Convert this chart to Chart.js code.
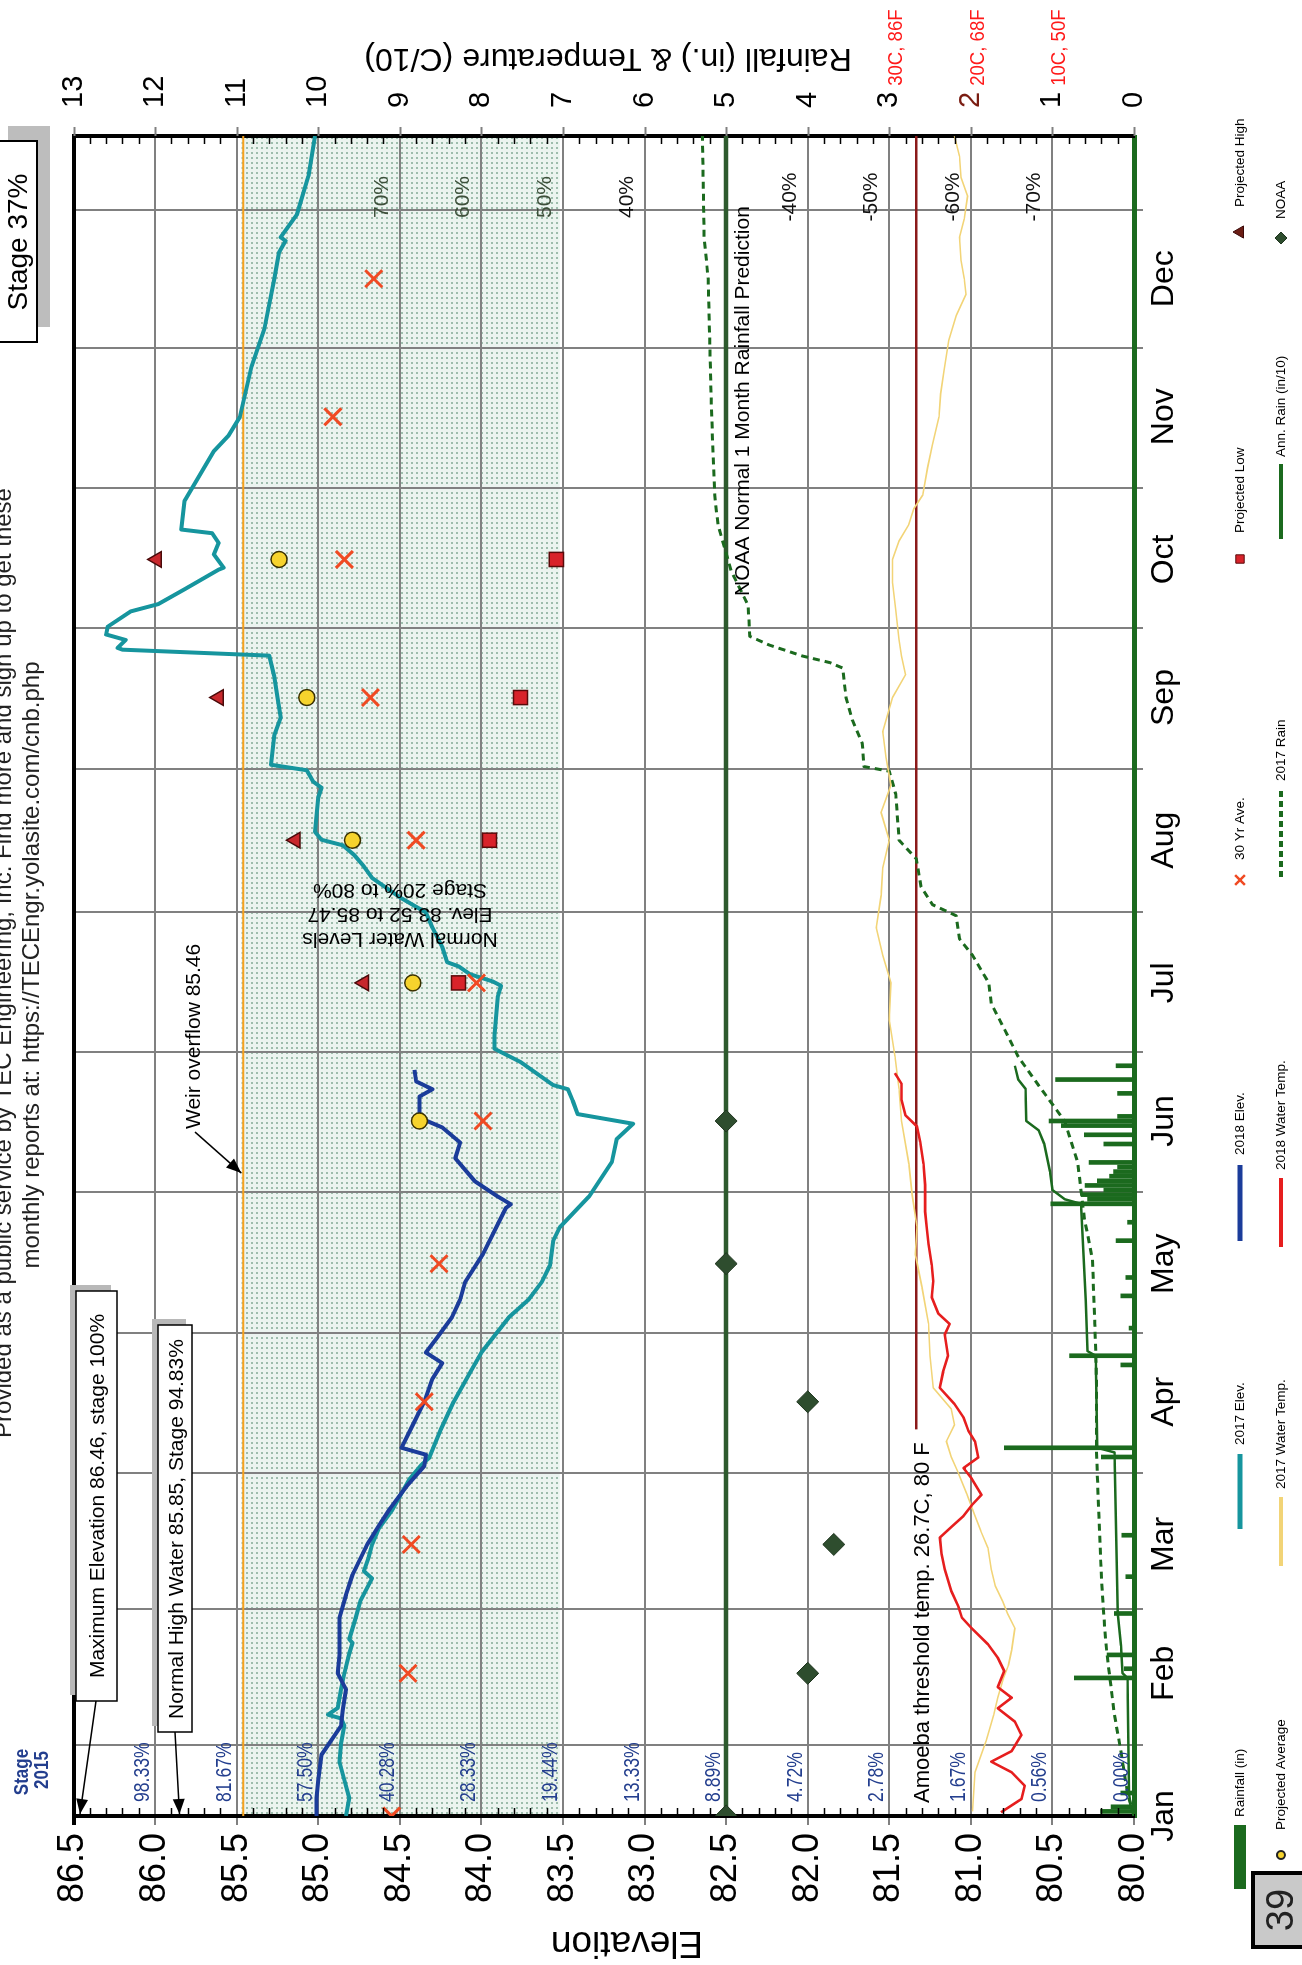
<!DOCTYPE html>
<html>
<head>
<meta charset="utf-8">
<script src="https://cdn.jsdelivr.net/npm/chart.js@4.4.1/dist/chart.umd.min.js"></script>
<style>
  html, body { margin: 0; padding: 0; background: #fff; width: 1302px; height: 1965px; overflow: hidden; }
  /* the landscape chart is laid out 1965 x 1302 and turned onto the portrait page */
  #page { position: absolute; left: 0; top: 0; width: 1965px; height: 1302px;
          transform-origin: 0 0; transform: translate(0, 1965px) rotate(-90deg); background: #fff; }
  canvas { display: block; }
</style>
</head>
<body>
<div id="page"><canvas id="lake" width="1965" height="1302"></canvas></div>
<script>
// ---------- data ----------
const months = ['Jan','Feb','Mar','Apr','May','Jun','Jul','Aug','Sep','Oct','Nov','Dec'];
const monthStart = [0,31,59,90,120,151,181,212,243,273,304,334];

// [day of year, elevation]
const elev2017 = [[0,84.83],[3.9,84.81],[7.8,84.84],[11.8,84.87],[15.7,84.86],[19.6,84.84],[21.2,84.86],[22,84.94],
  [23.5,84.88],[27.5,84.86],[31,84.84],[35.3,84.81],[37.6,84.79],[38.4,84.81],[43.1,84.77],[46.9,84.74],[51.6,84.67],
  [53.2,84.72],[56.3,84.69],[59,84.67],[62.4,84.63],[66.3,84.55],[70.1,84.49],[73.2,84.44],[76.2,84.37],[77.8,84.32],
  [83.9,84.25],[90,84.17],[96.9,84.06],[100.7,84.00],[108.4,83.83],[112.2,83.71],[116,83.63],[119.6,83.58],[125,83.56],
  [127.9,83.52],[134.6,83.34],[142.1,83.20],[147.1,83.17],[150.4,83.07],[152.5,83.41],[155.4,83.44],[157.9,83.47],
  [158.8,83.56],[163.8,83.76],[166.7,83.92],[169.6,83.92],[177.9,83.90],[180.4,83.88],[181.3,83.93],[182.9,84.07],
  [184.6,84.14],[185.5,84.21],[188.8,84.24],[193,84.30],[196.3,84.34],[199.6,84.50],[203.8,84.67],[206.3,84.72],
  [208.8,84.78],[210.9,84.85],[212.1,84.98],[213.8,85.02],[221.3,85.00],[223.4,84.98],[224.7,85.03],[227.2,85.07],
  [228.4,85.29],[234.7,85.27],[238.6,85.23],[243,85.25],[247.6,85.27],[252.1,85.30],[253.4,86.20],[253.8,86.23],
  [255.5,86.18],[256.7,86.30],[258.4,86.29],[261.7,86.15],[263.3,85.98],[266.7,85.81],[270.8,85.61],[271.2,85.58],
  [274.1,85.64],[276.6,85.61],[278.7,85.65],[279.5,85.84],[285.7,85.82],[296.5,85.64],[299.9,85.55],[304,85.48],
  [314.8,85.41],[323.1,85.33],[333.9,85.27],[339.7,85.24],[342.2,85.20],[343,85.23],[348,85.13],[356.3,85.06],[365,85.02]];

const elev2018 = [[0,85.01],[3.9,85.01],[7.8,85.00],[13.3,84.98],[19.6,84.86],[23,84.85],[27.5,84.83],[31,84.88],
  [35,84.87],[43,84.87],[48,84.83],[52.4,84.79],[59,84.70],[63,84.63],[66.8,84.56],[72,84.45],[76,84.35],[78.5,84.34],
  [80,84.49],[85,84.42],[90,84.35],[95,84.30],[98.4,84.24],[100.7,84.34],[104,84.27],[108.4,84.18],[112.2,84.13],
  [116,84.10],[122.1,83.99],[132.1,83.85],[132.9,83.82],[134.6,83.90],[137.9,84.04],[142.9,84.16],[146.3,84.13],
  [149.6,84.24],[151.7,84.38],[156.3,84.38],[157.9,84.30],[159.6,84.40],[162.1,84.41]];

// [day, degrees C / 10]
const waterTemp2017 = [[1,1.98],[9.5,1.95],[16.4,1.81],[22,1.72],[25.7,1.67],[30,1.60],[32.7,1.54],[36,1.50],[40.8,1.46],
  [44,1.55],[46.6,1.61],[50,1.70],[53.6,1.75],[58.2,1.79],[62,1.88],[65.2,1.95],[70,2.05],[74.4,2.15],[78,2.24],
  [81.4,2.30],[85,2.20],[88.4,2.24],[93,2.46],[100,2.50],[107,2.52],[115,2.60],[122,2.68],[128,2.66],[135,2.72],
  [141.7,2.76],[151,2.85],[158,2.88],[165,2.93],[173,3.00],[181,2.98],[187,3.08],[193,3.16],[200,3.10],[206,3.08],
  [212,3.00],[218,3.10],[224,2.98],[230,3.04],[235.6,3.08],[243,2.96],[248,2.80],[252,2.85],[255.6,2.88],[262,2.92],
  [268,2.96],[273,2.96],[277,2.88],[280.6,2.76],[284,2.70],[287,2.59],[293,2.53],[298,2.47],[304,2.39],[309,2.37],
  [314,2.33],[320.6,2.27],[326,2.18],[330.6,2.06],[334,2.08],[338,2.12],[343,2.14],[347,2.08],[352,2.04],[356,2.12],
  [360.6,2.14],[365,2.20]];

const waterTemp2018 = [[0.8,1.63],[3.7,1.38],[6.6,1.34],[9.5,1.50],[11.8,1.75],[14.1,1.50],[17.6,1.38],[20.5,1.46],
  [23.4,1.67],[25.7,1.50],[28,1.67],[31.5,1.59],[34.4,1.67],[37.3,1.79],[40.8,1.99],[43.1,2.11],[45.4,2.15],[48.9,2.24],
  [53.6,2.32],[57,2.36],[60.5,2.38],[62.8,2.24],[65.2,2.09],[67.5,1.99],[69.8,1.87],[73.3,1.99],[75.6,2.09],[77.9,1.91],
  [81.4,1.95],[83.7,2.03],[86.6,2.09],[89.5,2.20],[93,2.38],[96.5,2.34],[100,2.28],[104.6,2.32],[106.9,2.26],
  [109.2,2.40],[112.7,2.48],[116.2,2.46],[119.7,2.48],[124.3,2.52],[127.8,2.54],[131.3,2.56],[137.1,2.56],
  [141.7,2.58],[146.4,2.62],[149.8,2.66],[152.2,2.80],[155.6,2.85],[159.1,2.85],[161.4,2.93]];

// cumulative rain, inches / 10
const rain2017 = [[0,0],[5,0.08],[14,0.16],[22,0.24],[35,0.33],[38.5,0.35],[49,0.39],[56,0.41],[65,0.43],[79,0.46],
  [95,0.46],[107,0.48],[121,0.51],[130,0.61],[142,0.69],[151,0.85],[159,1.18],[165,1.42],[171,1.59],[176.5,1.75],
  [181,1.78],[187,1.98],[190.6,2.14],[195.6,2.18],[198,2.47],[201.9,2.61],[208,2.67],[212,2.88],[222,2.92],[227,3.00],
  [228,3.31],[233,3.33],[238,3.45],[243,3.53],[249.4,3.57],[250.6,3.73],[252,4.06],[254.4,4.47],[256.3,4.71],
  [263,4.73],[270.6,4.94],[280.6,5.10],[287,5.14],[305.6,5.18],[334,5.22],[343,5.27],[365,5.29]];

const annRain2018 = [[0,0],[2,0.04],[5,0.06],[30,0.08],[31,0.14],[37,0.16],[44,0.20],[79,0.24],[80,0.45],[100,0.47],
  [101,0.57],[112,0.59],[133,0.65],[134,0.85],[136,1.00],[140,1.03],[146,1.10],[149,1.17],[151,1.32],[158,1.33],
  [160,1.42],[163,1.46]];

// daily rainfall, inches
const rainfall2018 = [[1,0.41],[2,0.28],[5,0.16],[30,0.73],[32,0.12],[35,0.33],[44,0.24],[52,0.10],[61,0.15],[78,0.40],
  [80,1.59],[98,0.16],[100,0.79],[106,0.06],[113,0.16],[117,0.10],[125,0.22],[129,0.08],[133,1.02],[134,0.57],
  [135,0.65],[136,0.37],[137,0.60],[138,0.45],[139,0.30],[140,0.25],[141,0.20],[142,0.55],[146,0.37],[148,0.61],
  [150,0.89],[151,1.04],[152,0.20],[157,0.20],[160,0.96],[163,0.22]];

const avg30yr = [84.55,84.45,84.43,84.35,84.26,83.99,84.03,84.40,84.68,84.84,84.91,84.66];
const projAvgDays = [151,181,212,243,273];
const projAvg = [84.38,84.42,84.79,85.07,85.24];
const projRangeDays = [181,212,243,273];
const projLow = [84.14,83.95,83.76,83.54];
const projHigh = [84.72,85.14,85.61,85.99];
const noaaDays = [0,31,59,90,120,151];
const noaa = [5,4,3.68,4,5,5];

const noaaNormal = 5;
const amoebaTemp = 2.67;
const amoebaFrom = 84;
const weirLevel = 85.46;
const normalLow = 83.52, normalHigh = 85.47;

const stageLevels = [86.0,85.5,85.0,84.5,84.0,83.5,83.0,82.5,82.0,81.5,81.0,80.5,80.0];
const stageLabels = ['98.33%','81.67%','57.50%','40.28%','28.33%','19.44%','13.33%','8.89%','4.72%','2.78%','1.67%','0.56%','0.00%'];
const changeLevels = [84.5,84.0,83.5,83.0,82.0,81.5,81.0,80.5];
const changeLabels = ['70%','60%','50%','40%','-40%','-50%','-60%','-70%'];
const tempLevels = [3,2,1];
const tempLabels = ['30C, 86F','20C, 68F','10C, 50F'];

// ---------- helpers ----------
const xy = arr => arr.map(p => ({x: p[0], y: p[1]}));
const zip = (xs, ys) => xs.map((x, i) => ({x: x, y: ys[i]}));
const FONT = '"Liberation Sans", Arial, sans-serif';

function txt(ctx, s, x, y, o) {
  ctx.save();
  ctx.translate(x, y);
  if (o.rot) ctx.rotate(o.rot);
  if (o.sx) ctx.scale(o.sx, 1);
  ctx.font = o.font;
  ctx.fillStyle = o.color || '#000';
  ctx.textAlign = o.align || 'left';
  ctx.textBaseline = o.base || 'alphabetic';
  ctx.fillText(s, 0, 0);
  ctx.restore();
}
function arrow(ctx, x1, y1, x2, y2) {
  ctx.save();
  ctx.strokeStyle = '#000'; ctx.fillStyle = '#000'; ctx.lineWidth = 1.6;
  ctx.beginPath(); ctx.moveTo(x1, y1); ctx.lineTo(x2, y2); ctx.stroke();
  const a = Math.atan2(y2 - y1, x2 - x1), L = 15, W = 6;
  ctx.beginPath();
  ctx.moveTo(x2, y2);
  ctx.lineTo(x2 - L * Math.cos(a) + W * Math.sin(a), y2 - L * Math.sin(a) - W * Math.cos(a));
  ctx.lineTo(x2 - L * Math.cos(a) - W * Math.sin(a), y2 - L * Math.sin(a) + W * Math.cos(a));
  ctx.closePath(); ctx.fill();
  ctx.restore();
}
function shadowBox(ctx, x, y, w, h, dx, dy, shade, lw) {
  ctx.save();
  ctx.fillStyle = shade; ctx.fillRect(x + dx, y + dy, w, h);
  ctx.fillStyle = '#fff'; ctx.fillRect(x, y, w, h);
  ctx.strokeStyle = '#000'; ctx.lineWidth = lw; ctx.strokeRect(x, y, w, h);
  ctx.restore();
}
function marker(ctx, style, x, y, r, fill, stroke, lw) {
  ctx.save();
  ctx.fillStyle = fill; ctx.strokeStyle = stroke; ctx.lineWidth = lw;
  ctx.beginPath();
  if (style === 'circle') { ctx.arc(x, y, r, 0, Math.PI * 2); ctx.fill(); ctx.stroke(); }
  else if (style === 'rect') { ctx.rect(x - r * 0.7, y - r * 0.7, r * 1.4, r * 1.4); ctx.fill(); ctx.stroke(); }
  else if (style === 'triangle') { ctx.moveTo(x, y - r); ctx.lineTo(x + r * 0.87, y + r * 0.5); ctx.lineTo(x - r * 0.87, y + r * 0.5); ctx.closePath(); ctx.fill(); ctx.stroke(); }
  else if (style === 'rectRot') { ctx.moveTo(x, y - r); ctx.lineTo(x + r, y); ctx.lineTo(x, y + r); ctx.lineTo(x - r, y); ctx.closePath(); ctx.fill(); ctx.stroke(); }
  else if (style === 'crossRot') { const d = r * 0.7; ctx.moveTo(x - d, y - d); ctx.lineTo(x + d, y + d); ctx.moveTo(x + d, y - d); ctx.lineTo(x - d, y + d); ctx.stroke(); }
  ctx.restore();
}

// ---------- canvas + band fill ----------
const canvas = document.getElementById('lake');
const ctx0 = canvas.getContext('2d');
const tile = document.createElement('canvas');
tile.width = 5; tile.height = 5;
const tctx = tile.getContext('2d');
tctx.fillStyle = '#ebf4ef'; tctx.fillRect(0, 0, 5, 5);
tctx.fillStyle = '#9dbdac'; tctx.fillRect(1, 1, 2, 2);
const bandPattern = ctx0.createPattern(tile, 'repeat');

const C = {
  teal: '#16959e', blue: '#1b3c9a', red: '#e61e1e', pale: '#f2d477', green: '#1b6a1e',
  dkgreen: '#2e5a2e', maroon: '#8b1a1a', orange: '#f6a21e', navy: '#233e8e'
};

// ---------- decorations drawn around the plot ----------
const decor = {
  id: 'decor',
  afterDraw(chart) {
    const ctx = chart.ctx;
    const a = chart.chartArea;
    const y = chart.scales.y, yR = chart.scales.yR;

    // minor ticks (0.1 ft) along the left and right frame, major stubs outside the right frame
    ctx.save();
    for (let v = 80; v <= 86.5001; v += 0.1) {
      const p = Math.round(y.getPixelForValue(v)) + 0.5;
      const major = Math.abs(v * 2 - Math.round(v * 2)) < 1e-6;
      ctx.beginPath();
      if (!major) {
        ctx.strokeStyle = '#000'; ctx.lineWidth = 1.5;
        ctx.moveTo(a.left, p); ctx.lineTo(a.left + 8, p);
        ctx.moveTo(a.right, p); ctx.lineTo(a.right - 8, p);
      } else {
        ctx.strokeStyle = '#808080'; ctx.lineWidth = 2;
        ctx.moveTo(a.right, p); ctx.lineTo(a.right + 9, p);
      }
      ctx.stroke();
    }
    ctx.restore();

    // heading lines
    txt(ctx, 'Provided as a public service by TEC Engineering, Inc. Find more and sign up to get these', 1002, 11,
        {font: '24px ' + FONT, align: 'center', color: '#222'});
    txt(ctx, 'monthly reports at: https://TECEngr.yolasite.com/cnb.php', 1000, 39,
        {font: '24px ' + FONT, align: 'center', color: '#222'});

    // current stage box
    shadowBox(ctx, 1623, -5, 201, 42, 15, 13, '#bdbdbd', 2);
    txt(ctx, 'Stage 37%', 1723, 27, {font: '28px ' + FONT, align: 'center'});

    // axis titles
    txt(ctx, 'Elevation', 33, 627, {font: '37px ' + FONT, align: 'center', rot: -Math.PI / 2});
    txt(ctx, 'Rainfall (in.) & Temperature (C/10)', 1916, 608, {font: '32px ' + FONT, align: 'center', rot: -Math.PI / 2});

    // temperature equivalents beside the right-hand ticks
    ctx.save();
    ctx.font = '29px ' + FONT;
    tempLevels.forEach((v, i) => {
      const w = ctx.measureText(String(v)).width;
      txt(ctx, tempLabels[i], a.right + 28 + w + 6, yR.getPixelForValue(v) + 13,
          {font: '20px ' + FONT, color: '#ff1a1a', sx: 0.93});
    });
    ctx.restore();

    // 2015 stage percentages at each elevation line
    txt(ctx, 'Stage', 193, 28, {font: 'bold 20px ' + FONT, align: 'center', color: C.navy, sx: 0.85});
    txt(ctx, '2015', 195, 48, {font: 'bold 20px ' + FONT, align: 'center', color: C.navy, sx: 0.85});
    stageLevels.forEach((v, i) => {
      txt(ctx, stageLabels[i], a.left + 14, y.getPixelForValue(v) - 6,
          {font: '22px ' + FONT, color: C.navy, sx: 0.8});
    });

    // change labels near the year end
    changeLevels.forEach((v, i) => {
      txt(ctx, changeLabels[i], 1768, y.getPixelForValue(v) - 12,
          {font: '21px ' + FONT, align: 'center', color: v >= 83.5 ? '#3d4f3a' : '#111'});
    });

    // call-out boxes
    shadowBox(ctx, 264, 76, 410, 41, 6, -6, '#b8b8b8', 1.5);
    txt(ctx, 'Maximum Elevation 86.46, stage 100%', 469, 104, {font: '21px ' + FONT, align: 'center'});
    arrow(ctx, 264, 96, a.left + 2, y.getPixelForValue(86.46));
    shadowBox(ctx, 233, 158, 407, 34, 6, -6, '#b8b8b8', 1.5);
    txt(ctx, 'Normal High Water 85.85, Stage 94.83%', 436, 183, {font: '21px ' + FONT, align: 'center'});
    arrow(ctx, 233, 175, a.left + 2, y.getPixelForValue(85.85));

    txt(ctx, 'Weir overflow 85.46', 836, 200, {font: '21px ' + FONT});
    arrow(ctx, 833, 195, 792, y.getPixelForValue(weirLevel) - 2);

    const nwl = ['Normal Water Levels', 'Elev. 83.52 to 85.47', 'Stage 20% to 80%'];
    nwl.forEach((s, i) => txt(ctx, s, 1032 + i * 24.5, 400, {font: '21px ' + FONT, align: 'center', rot: -Math.PI / 2}));

    txt(ctx, 'NOAA Normal 1 Month Rainfall Prediction', 1369, yR.getPixelForValue(noaaNormal) + 23, {font: '21px ' + FONT});
    txt(ctx, 'Amoeba threshold temp. 26.7C, 80 F', 162, yR.getPixelForValue(amoebaTemp) + 13, {font: '22px ' + FONT});

    // legend
    const rows = [1240, 1281];
    const legendFont = '13.5px ' + FONT;
    const items = [
      {label: 'Rainfall (in)', row: 0, s: 76, e: 140, t: 148, kind: 'bar', color: C.green},
      {label: '2017 Elev.', row: 0, s: 436, e: 511, t: 520, kind: 'line', color: C.teal, w: 5},
      {label: '2018 Elev.', row: 0, s: 724, e: 800, t: 810, kind: 'line', color: C.blue, w: 5},
      {label: '30 Yr Ave.', row: 0, s: 1085, t: 1105, kind: 'pt', style: 'crossRot', r: 7, fill: '#f04a23', stroke: '#f04a23', lw: 2.5},
      {label: 'Projected Low', row: 0, s: 1406, t: 1432, kind: 'pt', style: 'rect', r: 6, fill: '#d8232a', stroke: '#5a0a0a', lw: 1},
      {label: 'Projected High', row: 0, s: 1733, t: 1758, kind: 'pt', style: 'triangle', r: 7, fill: '#6b1d14', stroke: '#3a0a0a', lw: 1},
      {label: 'Projected Average', row: 1, s: 110, t: 135, kind: 'pt', style: 'circle', r: 4, fill: '#f6d32d', stroke: '#222', lw: 2},
      {label: '2017 Water Temp.', row: 1, s: 399, e: 468, t: 476, kind: 'line', color: C.pale, w: 4},
      {label: '2018 Water Temp.', row: 1, s: 718, e: 787, t: 795, kind: 'line', color: C.red, w: 4},
      {label: '2017 Rain', row: 1, s: 1088, e: 1176, t: 1184, kind: 'line', color: C.green, w: 4, dash: [6, 4]},
      {label: 'Ann. Rain (in/10)', row: 1, s: 1426, e: 1501, t: 1508, kind: 'line', color: C.green, w: 4},
      {label: 'NOAA', row: 1, s: 1727, t: 1746, kind: 'pt', style: 'rectRot', r: 6, fill: '#2e4d2e', stroke: '#1d331d', lw: 1}
    ];
    items.forEach(it => {
      const ry = rows[it.row];
      ctx.save();
      if (it.kind === 'bar') {
        ctx.fillStyle = it.color; ctx.fillRect(it.s, ry - 6, it.e - it.s, 12);
      } else if (it.kind === 'line') {
        ctx.strokeStyle = it.color; ctx.lineWidth = it.w; ctx.setLineDash(it.dash || []);
        ctx.beginPath(); ctx.moveTo(it.s, ry); ctx.lineTo(it.e, ry); ctx.stroke();
      } else {
        marker(ctx, it.style, it.s, ry, it.r, it.fill, it.stroke, it.lw);
      }
      ctx.restore();
      txt(ctx, it.label, it.t, ry, {font: legendFont, base: 'middle'});
    });

    // page number tab
    ctx.save();
    ctx.fillStyle = '#c9c9c9'; ctx.fillRect(18, 1253, 74, 60);
    ctx.strokeStyle = '#000'; ctx.lineWidth = 4; ctx.strokeRect(18, 1253, 74, 60);
    ctx.restore();
    txt(ctx, '39', 55, 1293, {font: '38px ' + FONT, align: 'center', color: '#222'});
  }
};

// ---------- chart ----------
const line = (label, data, color, width, order, extra) => Object.assign({
  type: 'line', label: label, data: data, borderColor: color, backgroundColor: color, borderWidth: width,
  pointRadius: 0, tension: 0, fill: false, order: order, yAxisID: 'y', borderJoinStyle: 'round'
}, extra || {});
const points = (label, data, style, r, fill, stroke, lw, order, axis) => ({
  type: 'line', label: label, data: data, showLine: false, pointStyle: style, pointRadius: r,
  pointBackgroundColor: fill, pointBorderColor: stroke, pointBorderWidth: lw, order: order, yAxisID: axis || 'y'
});

new Chart(canvas, {
  type: 'line',
  data: {
    datasets: [
      line('Normal Water Levels', [{x: 0, y: normalHigh}, {x: 365, y: normalHigh}], 'rgba(0,0,0,0)', 0, 100,
           {fill: {value: normalLow}, backgroundColor: bandPattern}),
      line('Weir overflow', [{x: 0, y: weirLevel}, {x: 365, y: weirLevel}], C.orange, 2, 90),
      line('NOAA Normal', [{x: 0, y: noaaNormal}, {x: 365, y: noaaNormal}], C.dkgreen, 4.5, 85, {yAxisID: 'yR'}),
      line('Amoeba threshold', [{x: amoebaFrom, y: amoebaTemp}, {x: 365, y: amoebaTemp}], C.maroon, 2.5, 80, {yAxisID: 'yR'}),
      {type: 'bar', label: 'Rainfall (in)', data: xy(rainfall2018), backgroundColor: C.green, borderWidth: 0,
       barThickness: 4, grouped: false, yAxisID: 'yR', order: 70},
      line('2017 Rain', xy(rain2017), C.green, 3, 61, {yAxisID: 'yR', borderDash: [7, 5]}),
      line('Ann. Rain (in/10)', xy(annRain2018), C.green, 2.5, 60, {yAxisID: 'yR'}),
      line('2017 Water Temp.', xy(waterTemp2017), C.pale, 1.6, 50, {yAxisID: 'yR'}),
      line('2018 Water Temp.', xy(waterTemp2018), C.red, 2.6, 45, {yAxisID: 'yR'}),
      line('2017 Elev.', xy(elev2017), C.teal, 4, 30),
      line('2018 Elev.', xy(elev2018), C.blue, 4, 25),
      points('30 Yr Ave.', zip(monthStart, avg30yr), 'crossRot', 12, '#f04a23', '#f04a23', 3, 10),
      points('Projected Average', zip(projAvgDays, projAvg), 'circle', 8, '#f6d32d', '#3a3000', 1.5, 9),
      points('Projected Low', zip(projRangeDays, projLow), 'rect', 10, '#d8232a', '#5a0a0a', 1.5, 8),
      points('Projected High', zip(projRangeDays, projHigh), 'triangle', 9, '#c8282d', '#4a0a0a', 1.5, 7),
      points('NOAA', zip(noaaDays, noaa), 'rectRot', 11, '#2e4d2e', '#1d331d', 1, 5, 'yR')
    ]
  },
  options: {
    responsive: false,
    animation: false,
    devicePixelRatio: 1,
    events: [],
    layout: {padding: {top: 73.5, left: 0, right: 0, bottom: 0}},
    plugins: {
      legend: {display: false},
      tooltip: {enabled: false},
      filler: {drawTime: 'beforeDraw'}
    },
    scales: {
      x: {
        type: 'linear', min: 0, max: 365, offset: false,
        afterFit: s => { s.height = 168; },
        afterBuildTicks: s => { s.ticks = monthStart.map(v => ({value: v})); },
        ticks: {autoSkip: false, maxRotation: 0, padding: 2, color: '#000',
                font: {family: FONT, size: 32},
                callback: v => months[monthStart.indexOf(v)] || ''},
        grid: {color: '#808080', lineWidth: 2, tickLength: 9},
        border: {color: C.green, width: 5}
      },
      y: {
        position: 'left', min: 80, max: 86.5,
        afterFit: s => { s.width = 149; },
        ticks: {stepSize: 0.5, padding: 8, color: '#000', font: {family: FONT, size: 36},
                callback: v => Number(v).toFixed(1)},
        grid: {color: c => (c.tick && c.tick.value === 86.5) ? '#000' : '#808080',
               lineWidth: c => (c.tick && c.tick.value === 86.5) ? 4 : 2, tickLength: 9},
        border: {color: '#000', width: 4}
      },
      yR: {
        position: 'right', min: 0, max: 13,
        afterFit: s => { s.width = 136; },
        ticks: {stepSize: 1, padding: 28, font: {family: FONT, size: 29},
                color: c => (c.tick && c.tick.value === 2) ? '#7a1d12' : '#000',
                callback: v => String(v)},
        grid: {display: false, drawTicks: false},
        border: {color: '#000', width: 4}
      }
    }
  },
  plugins: [decor]
});
</script>
</body>
</html>
